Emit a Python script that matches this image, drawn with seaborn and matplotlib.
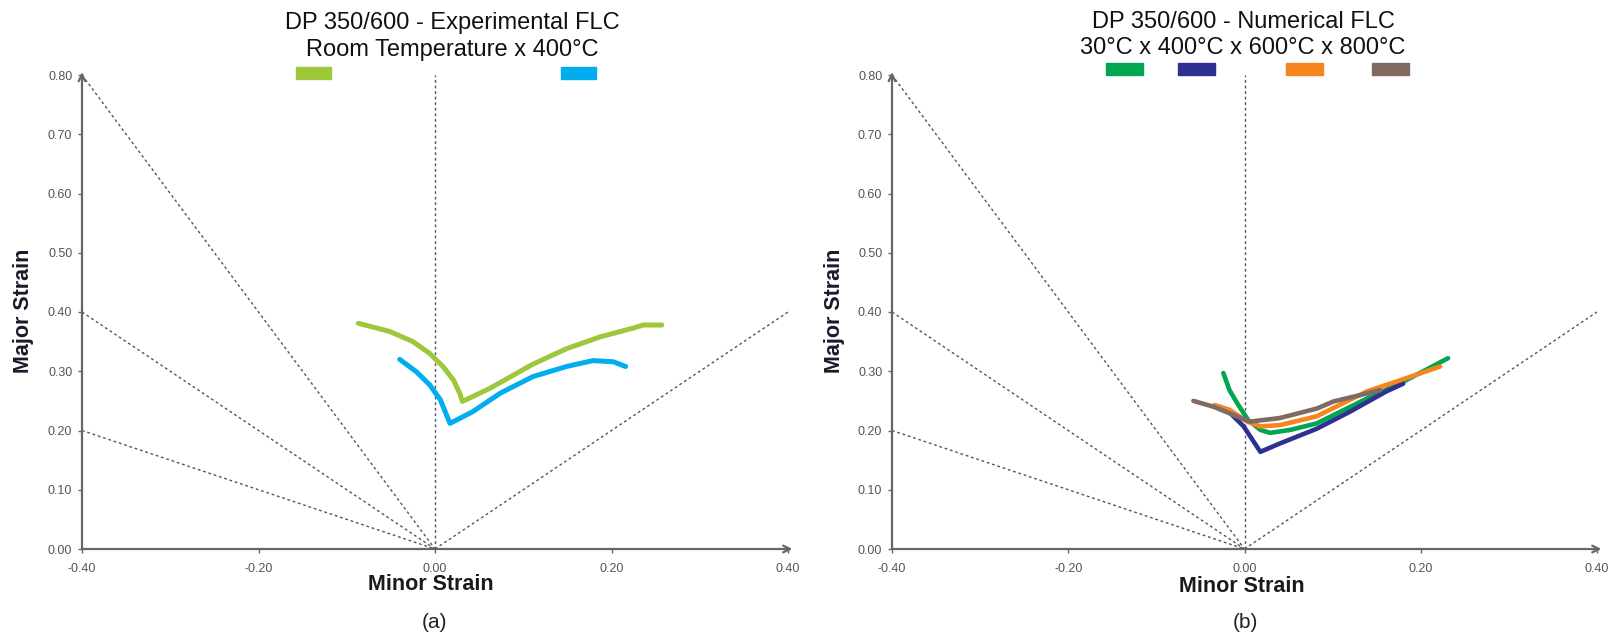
import matplotlib
matplotlib.use("Agg")
import matplotlib.pyplot as plt
import seaborn as sns
import numpy as np
import pandas as pd
from matplotlib.patches import Rectangle

sns.set_theme(style="white")
FONT = ['Liberation Sans', 'DejaVu Sans']
plt.rcParams['font.family'] = FONT

# ---------------- data ----------------
# Panel (a) experimental FLC
rt_x = [-0.087, -0.051, -0.025, -0.006, 0.009, 0.021, 0.028, 0.031,
        0.062, 0.074, 0.111, 0.149, 0.187, 0.225, 0.236, 0.257]
rt_y = [0.381, 0.367, 0.350, 0.330, 0.308, 0.285, 0.263, 0.249,
        0.271, 0.281, 0.312, 0.338, 0.358, 0.373, 0.378, 0.378]
t400_x = [-0.040, -0.021, -0.006, 0.006, 0.017, 0.043, 0.074, 0.111,
          0.149, 0.179, 0.202, 0.216]
t400_y = [0.320, 0.299, 0.277, 0.252, 0.212, 0.232, 0.263, 0.291,
          0.308, 0.318, 0.316, 0.308]

# Panel (b) numerical FLC
n30_x = [-0.024, -0.017, -0.007, 0.004, 0.018, 0.029, 0.052, 0.082, 0.139, 0.177, 0.231]
n30_y = [0.297, 0.268, 0.243, 0.218, 0.201, 0.196, 0.201, 0.212, 0.254, 0.280, 0.322]
n400_x = [-0.028, -0.020, -0.001, 0.018, 0.040, 0.082, 0.120, 0.161, 0.180]
n400_y = [0.238, 0.235, 0.207, 0.164, 0.178, 0.203, 0.232, 0.266, 0.279]
n600_x = [-0.034, -0.017, 0.003, 0.018, 0.040, 0.082, 0.139, 0.177, 0.222]
n600_y = [0.243, 0.235, 0.215, 0.207, 0.209, 0.224, 0.266, 0.285, 0.308]
n800_x = [-0.058, -0.035, -0.017, 0.006, 0.040, 0.082, 0.101, 0.154]
n800_y = [0.250, 0.240, 0.229, 0.215, 0.221, 0.237, 0.249, 0.268]

exp_labels = ["Room Temperature", "400°C"]
exp_colors = ["#9DC83A", "#00AEEF"]
num_labels = ["30°C", "400°C", "600°C", "800°C"]
num_colors = ["#00A650", "#2E3192", "#F7851F", "#7F6B62"]

x_ticks = [-0.40, -0.20, 0.00, 0.20, 0.40]
y_ticks = [0.00, 0.10, 0.20, 0.30, 0.40, 0.50, 0.60, 0.70, 0.80]
guide_slopes = [-2.0, -1.0, -0.5, 1.0]

exp_df = pd.concat([
    pd.DataFrame({"minor": rt_x, "major": rt_y, "series": exp_labels[0]}),
    pd.DataFrame({"minor": t400_x, "major": t400_y, "series": exp_labels[1]}),
])
num_df = pd.concat([
    pd.DataFrame({"minor": n30_x, "major": n30_y, "series": num_labels[0]}),
    pd.DataFrame({"minor": n400_x, "major": n400_y, "series": num_labels[1]}),
    pd.DataFrame({"minor": n600_x, "major": n600_y, "series": num_labels[2]}),
    pd.DataFrame({"minor": n800_x, "major": n800_y, "series": num_labels[3]}),
])

W, H = 1610, 639
fig = plt.figure(figsize=(W / 100, H / 100), dpi=100)
fig.patch.set_facecolor("white")

def fx(px):
    return px / W

def fy(py):
    return 1 - py / H

axA = fig.add_axes([fx(82), fy(549), (788 - 82) / W, (549 - 75) / H])
axB = fig.add_axes([fx(892), fy(549), (1597 - 892) / W, (549 - 75) / H])

def style_axes(ax):
    ax.set_xlim(-0.4, 0.4)
    ax.set_ylim(0, 0.8)
    ax.set_facecolor("white")
    for s in ax.spines.values():
        s.set_visible(False)
    # guide lines through the origin
    for m in guide_slopes:
        ax.axline((0, 0), slope=m, color="#555555", lw=1.0,
                  linestyle=(0, (2, 2)), zorder=1)
    ax.axvline(0, color="#555555", lw=1.0, linestyle=(0, (2, 2)), zorder=1)
    # axis arrows
    ax.annotate("", xy=(0.405, 0), xytext=(-0.4, 0),
                arrowprops=dict(arrowstyle="->", color="#666666", lw=1.6,
                                shrinkA=0, shrinkB=0), annotation_clip=False, zorder=3)
    ax.annotate("", xy=(-0.4, 0.805), xytext=(-0.4, 0),
                arrowprops=dict(arrowstyle="->", color="#666666", lw=1.6,
                                shrinkA=0, shrinkB=0), annotation_clip=False, zorder=3)
    ax.set_xticks(x_ticks)
    ax.set_yticks(y_ticks)
    ax.set_xticklabels([f"{v:.2f}" for v in x_ticks])
    ax.set_yticklabels([f"{v:.2f}" for v in y_ticks])
    ax.tick_params(axis="both", which="both", direction="out", length=3,
                   width=1, color="#666666", labelsize=9, labelcolor="#555555",
                   bottom=True, left=True, pad=4)
    ax.tick_params(axis="x", pad=7)
    ax.set_xlabel("")
    ax.set_ylabel("")
    ax.grid(False)

sns.lineplot(data=exp_df, x="minor", y="major", hue="series", hue_order=exp_labels,
             palette=exp_colors, sort=False, lw=3.6, ax=axA, legend=False, zorder=5)
sns.lineplot(data=num_df, x="minor", y="major", hue="series", hue_order=num_labels,
             palette=num_colors, sort=False, lw=3.3, ax=axB, legend=False, zorder=5)
style_axes(axA)
style_axes(axB)

# titles
TKW = dict(ha="center", va="center", fontsize=17, color="#111111", family=FONT)
fig.text(fx(452), fy(23), "DP 350/600 - Experimental FLC", **TKW)
fig.text(fx(452), fy(50), "Room Temperature x 400°C", **TKW)
fig.text(fx(1243), fy(22), "DP 350/600 - Numerical FLC", **TKW)
fig.text(fx(1243), fy(48), "30°C x 400°C x 600°C x 800°C", **TKW)

# legend keys
for x0, c in zip([296, 561], exp_colors):
    fig.add_artist(Rectangle((fx(x0), fy(79)), 35 / W, 12 / H, color=c,
                             transform=fig.transFigure))
for x0, c in zip([1106, 1178, 1286, 1372], num_colors):
    fig.add_artist(Rectangle((fx(x0), fy(75)), 37 / W, 12 / H, color=c,
                             transform=fig.transFigure))

# axis labels
LKW = dict(ha="center", va="center", fontsize=15.5, fontweight="bold", family=FONT)
for xc in [23, 834]:
    fig.text(fx(xc), fy(311), "Major Strain", rotation=90, color="#1a1a2a", **LKW)
fig.text(fx(431), fy(585), "Minor Strain", color="#1a1a1a", **LKW)
fig.text(fx(1242), fy(587), "Minor Strain", color="#1a1a1a", **LKW)

# panel labels
fig.text(fx(434), fy(622), "(a)", ha="center", va="center", fontsize=15,
         color="#222222", family=FONT)
fig.text(fx(1245), fy(622), "(b)", ha="center", va="center", fontsize=15,
         color="#222222", family=FONT)

fig.savefig("out.png", dpi=100, facecolor="white")
